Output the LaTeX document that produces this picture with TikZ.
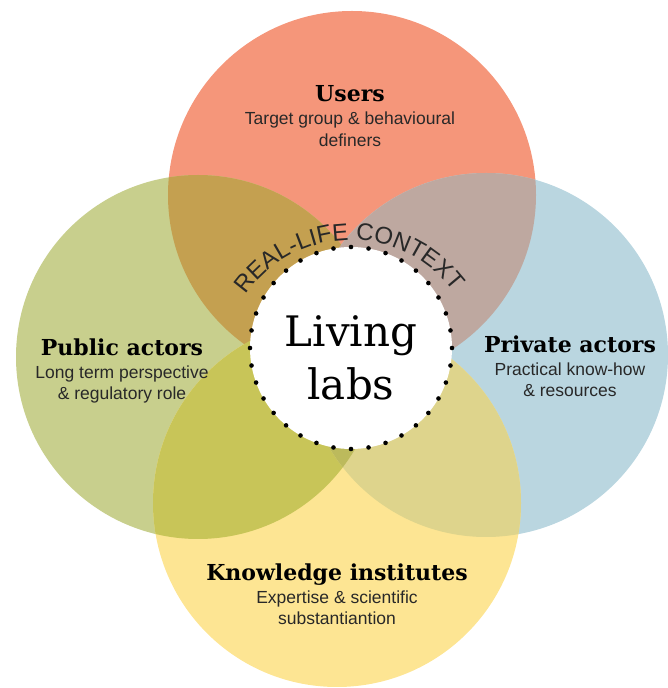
\documentclass[tikz,border=0pt]{standalone}
\usepackage{fontspec}
\setmainfont{Liberation Sans}
\newfontfamily\slabfont{DejaVu Serif}
\usetikzlibrary{positioning, decorations.text}
\definecolor{usersred}{RGB}{245, 150, 122}
\definecolor{publicgreen}{RGB}{200, 207, 141}
\definecolor{privateblue}{RGB}{186, 214, 224}
\definecolor{knowyellow}{RGB}{253, 229, 147}
\definecolor{userspublic}{RGB}{196, 160, 80}
\definecolor{usersprivate}{RGB}{190, 168, 160}
\definecolor{publicknow}{RGB}{200, 197, 88}
\definecolor{privateknow}{RGB}{222, 212, 140}
\definecolor{lowtriple}{RGB}{188, 186, 92}
\definecolor{subgray}{RGB}{40, 40, 40}

\begin{document}
\begin{tikzpicture}[x=1pt, y=1pt]

\tikzstyle{title} = [font=\slabfont\bfseries\fontsize{22}{26}\selectfont, anchor=base, inner sep=0pt]
\tikzstyle{annot} = [font=\fontsize{17.5}{21.5}\selectfont, align=center, text=subgray, anchor=base, inner sep=0pt]
\tikzstyle{big} = [font=\slabfont\fontsize{42}{50}\selectfont, anchor=base, inner sep=0pt]

\useasboundingbox (0,0) rectangle (668,688);

% circle centres
\coordinate (cu) at (352,493);
\coordinate (cp) at (198,331);
\coordinate (cr) at (486,333);
\coordinate (ck) at (337,185);
\coordinate (cl) at (351,340);

\fill[usersred] (cu) circle (184);
\fill[publicgreen] (cp) circle (182);
\fill[privateblue] (cr) circle (182);
\fill[knowyellow] (ck) circle (184);

% overlaps
\begin{scope}
  \clip (cu) circle (184);
  \fill[userspublic] (cp) circle (182);
  \fill[usersprivate] (cr) circle (182);
\end{scope}
\begin{scope}
  \clip (ck) circle (184);
  \fill[publicknow] (cp) circle (182);
  \fill[privateknow] (cr) circle (182);
  \clip (cp) circle (182);
  \fill[lowtriple] (cr) circle (182);
\end{scope}

\fill[white] (cl) circle (101);
\foreach \a in {0, 10, ..., 350}
  \fill (cl) ++(\a:101) circle (2.3);

\path[decorate, decoration={text along path, text align=center,
  text={|\fontsize{24}{24}\selectfont\color{subgray}|REAL-LIFE CONTEXT}}]
  (351,320) ++(160:128) arc[start angle=160, end angle=22, radius=128];

\node[big] (living) at (351,341) {Living};
\node[big] (labs) at ([yshift=-53pt]living.base) {labs};

% the base of a two-line note is its last line
\node[title] (users) at (350,586) {Users};
\node[annot] (usersnote) at ([yshift=-44.5pt]users.base) {Target group \& behavioural\\definers};

\node[title] (public) at (122,332) {Public actors};
\node[annot] (publicnote) at ([yshift=-44pt]public.base) {Long term perspective\\\& regulatory role};

\node[title] (private) at (570,335) {Private actors};
\node[annot] (privatenote) at ([yshift=-44pt]private.base) {Practical know-how\\\& resources};

\node[title] (knowledge) at (337,107) {Knowledge institutes};
\node[annot] (knowledgenote) at ([yshift=-44pt]knowledge.base) {Expertise \& scientific\\substantiantion};

\end{tikzpicture}
\end{document}
